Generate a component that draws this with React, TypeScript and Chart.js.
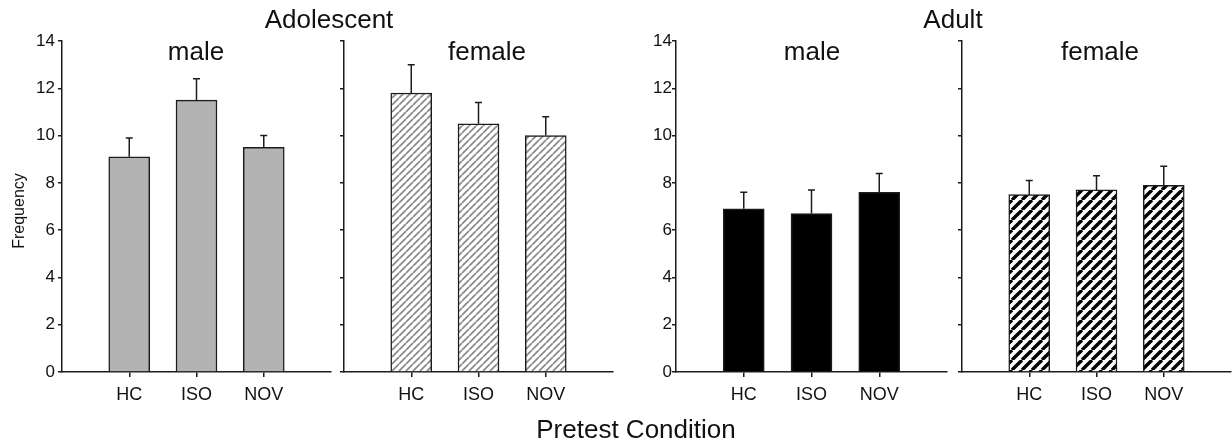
import React, { useEffect, useRef } from 'react';
import { Chart, registerables } from 'chart.js';

Chart.register(...registerables);

// ---- data ----
const categories = ['HC', 'ISO', 'NOV'];
const categoryPositions = [1, 2, 3];
const yTickValues = [0, 2, 4, 6, 8, 10, 12, 14];

const adolescentMale = [9.1, 11.5, 9.5];
const adolescentMaleErr = [0.8, 0.9, 0.5];
const adolescentFemale = [11.8, 10.5, 10.0];
const adolescentFemaleErr = [1.2, 0.9, 0.8];
const adultMale = [6.9, 6.7, 7.6];
const adultMaleErr = [0.7, 1.0, 0.8];
const adultFemale = [7.5, 7.7, 7.9];
const adultFemaleErr = [0.6, 0.6, 0.8];

const FONT = '"Liberation Sans", Arial, Helvetica, sans-serif';
const AXIS = '#1c1c1c';

type FillKind = 'gray' | 'black' | 'hatchLight' | 'hatchDark';

function makeHatch(ctx: CanvasRenderingContext2D, size: number, lw: number, color: string) {
  const c = document.createElement('canvas');
  c.width = size;
  c.height = size;
  const g = c.getContext('2d') as CanvasRenderingContext2D;
  g.fillStyle = '#ffffff';
  g.fillRect(0, 0, size, size);
  g.strokeStyle = color;
  g.lineWidth = lw;
  g.beginPath();
  for (const k of [-1, 0, 1]) {
    g.moveTo(k * size, size);
    g.lineTo(k * size + size, 0);
  }
  g.stroke();
  return ctx.createPattern(c, 'repeat');
}

interface PanelProps {
  left: number;
  width: number;
  yWidth: number;
  padRight: number;
  values: number[];
  errors: number[];
  fill: FillKind;
  showYLabels: boolean;
  yLabelPad: number;
}

function Panel(props: PanelProps) {
  const ref = useRef<HTMLCanvasElement | null>(null);
  useEffect(() => {
    const canvas = ref.current;
    if (!canvas) return;
    const ctx = canvas.getContext('2d') as CanvasRenderingContext2D;
    let bg: any = '#b3b3b3';
    if (props.fill === 'black') bg = '#000000';
    if (props.fill === 'hatchLight') bg = makeHatch(ctx, 7, 1.8, '#8c8c8c');
    if (props.fill === 'hatchDark') bg = makeHatch(ctx, 10, 3.4, '#000000');

    const errs = props.errors;
    const errorBars = {
      id: 'errorBars',
      afterDatasetsDraw(chart: any) {
        const c = chart.ctx;
        const xs = chart.scales.x;
        const ys = chart.scales.y;
        const ds = chart.data.datasets[0];
        c.save();
        c.strokeStyle = AXIS;
        c.lineWidth = 1.5;
        ds.data.forEach((pt: any, i: number) => {
          const px = xs.getPixelForValue(pt.x);
          const y0 = ys.getPixelForValue(pt.y);
          const y1 = ys.getPixelForValue(pt.y + errs[i]);
          c.beginPath();
          c.moveTo(px, y0);
          c.lineTo(px, y1);
          c.moveTo(px - 3.5, y1);
          c.lineTo(px + 3.5, y1);
          c.stroke();
        });
        c.restore();
      },
    };

    const chart = new Chart(canvas, {
      type: 'bar',
      data: {
        datasets: [
          {
            data: categoryPositions.map((x, i) => ({ x, y: props.values[i] })),
            backgroundColor: bg,
            borderColor: AXIS,
            borderWidth: 1.5,
            barThickness: 41,
          } as any,
        ],
      },
      options: {
        responsive: false,
        maintainAspectRatio: false,
        devicePixelRatio: 1,
        animation: false,
        layout: { padding: { top: 41, bottom: 0, left: 0, right: props.padRight } },
        plugins: { legend: { display: false }, tooltip: { enabled: false } },
        scales: {
          x: {
            type: 'linear',
            min: 0,
            max: 4,
            offset: false,
            afterBuildTicks: (s: any) => {
              s.ticks = categoryPositions.map((v) => ({ value: v }));
            },
            afterFit: (s: any) => {
              s.height = 74;
            },
            ticks: {
              callback: (v: any) => categories[categoryPositions.indexOf(Number(v))],
              font: { family: FONT, size: 18 },
              color: '#111',
              padding: 7,
              maxRotation: 0,
            },
            grid: {
              display: true,
              offset: false,
              drawOnChartArea: false,
              drawTicks: true,
              tickLength: 5,
              color: AXIS,
              lineWidth: 1.5,
            },
            border: { display: true, color: AXIS, width: 1.5 },
          },
          y: {
            type: 'linear',
            min: 0,
            max: 14,
            afterBuildTicks: (s: any) => {
              s.ticks = yTickValues.map((v) => ({ value: v }));
            },
            afterFit: (s: any) => {
              s.width = props.yWidth;
            },
            ticks: {
              display: props.showYLabels,
              font: { family: FONT, size: 17 },
              color: '#111',
              padding: props.yLabelPad,
            },
            grid: {
              display: true,
              drawOnChartArea: false,
              drawTicks: true,
              tickLength: 4,
              color: AXIS,
              lineWidth: 1.5,
            },
            border: { display: true, color: AXIS, width: 1.5 },
          },
        },
      } as any,
      plugins: [errorBars],
    });
    return () => chart.destroy();
  }, []);
  return (
    <canvas
      ref={ref}
      width={props.width}
      height={446}
      style={{ position: 'absolute', left: props.left, top: 0, width: props.width, height: 446 }}
    />
  );
}

function Label(p: { text: string; cx: number; baseline: number; size: number }) {
  const top = p.baseline - Math.round(p.size * 0.845);
  return (
    <div
      style={{
        position: 'absolute',
        left: p.cx - 150,
        width: 300,
        top,
        textAlign: 'center',
        fontFamily: FONT,
        fontSize: p.size,
        lineHeight: `${p.size}px`,
        color: '#111',
        whiteSpace: 'nowrap',
      }}
    >
      {p.text}
    </div>
  );
}

export default function App() {
  return (
    <div
      style={{
        position: 'absolute',
        left: 0,
        top: 0,
        width: 1232,
        height: 446,
        background: '#ffffff',
        overflow: 'hidden',
      }}
    >
      <Panel left={0} width={336} yWidth={62} padRight={5} values={adolescentMale} errors={adolescentMaleErr} fill="gray" showYLabels={true} yLabelPad={3} />
      <Panel left={336} width={282} yWidth={8} padRight={5} values={adolescentFemale} errors={adolescentFemaleErr} fill="hatchLight" showYLabels={false} yLabelPad={3} />
      <Panel left={618} width={334} yWidth={58} padRight={5} values={adultMale} errors={adultMaleErr} fill="black" showYLabels={true} yLabelPad={0} />
      <Panel left={952} width={280} yWidth={10} padRight={1} values={adultFemale} errors={adultFemaleErr} fill="hatchDark" showYLabels={false} yLabelPad={3} />

      <Label text="Adolescent" cx={329} baseline={28} size={26} />
      <Label text="Adult" cx={953} baseline={28} size={26} />
      <Label text="male" cx={196} baseline={60} size={26} />
      <Label text="female" cx={487} baseline={60} size={26} />
      <Label text="male" cx={812} baseline={60} size={26} />
      <Label text="female" cx={1100} baseline={60} size={26} />
      <Label text="Pretest Condition" cx={636} baseline={438} size={26} />

      <div
        style={{
          position: 'absolute',
          left: 19 - 60,
          top: 211 - 8,
          width: 120,
          height: 16,
          lineHeight: '16px',
          textAlign: 'center',
          fontFamily: FONT,
          fontSize: 16,
          color: '#111',
          transform: 'rotate(-90deg)',
          transformOrigin: '50% 50%',
          whiteSpace: 'nowrap',
        }}
      >
        Frequency
      </div>
    </div>
  );
}
